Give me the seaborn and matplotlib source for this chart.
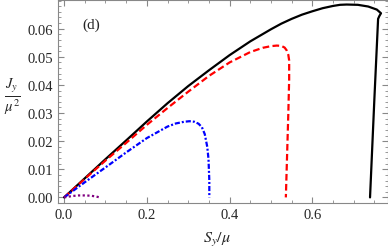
import numpy as np
import pandas as pd
import matplotlib
matplotlib.use("Agg")
import matplotlib.pyplot as plt
import seaborn as sns
from matplotlib.ticker import MultipleLocator, FixedLocator, FormatStrFormatter

# curve data (S_y/mu, J_y/mu^2)
black_x = [0.0, 0.05, 0.1, 0.154, 0.2, 0.25, 0.3, 0.35, 0.4, 0.45, 0.5, 0.525, 0.55, 0.575,
           0.6, 0.625, 0.65, 0.667, 0.683, 0.71, 0.735, 0.756, 0.766, 0.762, 0.759,
           0.750, 0.7395]
black_y = [0.0, 0.0068, 0.0136, 0.0208, 0.0270, 0.0335, 0.0396, 0.0452, 0.0506, 0.0555,
           0.0598, 0.0618, 0.0635, 0.0650, 0.0662, 0.0673, 0.0681, 0.0685, 0.0686,
           0.0685, 0.0679, 0.0668, 0.0655, 0.0645, 0.0635, 0.035, 0.0]

red_x = [0.0, 0.05, 0.1, 0.154, 0.2, 0.25, 0.3, 0.35, 0.4, 0.45, 0.48, 0.5, 0.514, 0.525,
         0.533, 0.538, 0.542, 0.544, 0.544, 0.542, 0.539, 0.536]
red_y = [0.0, 0.0066, 0.0131, 0.0199, 0.0258, 0.0318, 0.0376, 0.0432, 0.0480, 0.0517,
         0.0532, 0.0538, 0.0540, 0.0539, 0.0533, 0.0523, 0.0507, 0.0487, 0.042, 0.030,
         0.015, 0.0]

blue_x = [0.0, 0.05, 0.106, 0.15, 0.2, 0.25, 0.27, 0.29, 0.303, 0.315, 0.325, 0.333,
          0.340, 0.346, 0.349, 0.351, 0.351]
blue_y = [0.0, 0.0054, 0.0113, 0.0160, 0.0211, 0.0252, 0.0263, 0.0269, 0.0271, 0.0269,
          0.0262, 0.0250, 0.0225, 0.018, 0.0137, 0.006, 0.0]

purple_x = [0.0, 0.02, 0.035, 0.05, 0.065, 0.078, 0.086]
purple_y = [0.0, 0.0005, 0.0007, 0.0007, 0.0006, 0.0003, 0.0]

x_ticks = [0.0, 0.2, 0.4, 0.6]
y_ticks = [0.0, 0.01, 0.02, 0.03, 0.04, 0.05, 0.06]

sns.set_style("ticks")
plt.rcParams["font.family"] = ["Liberation Serif", "DejaVu Serif"]
plt.rcParams["mathtext.fontset"] = "stix"

fig = plt.figure(figsize=(3.88, 2.53), dpi=100)
ax = fig.add_axes([0.150, 0.194, 0.849, 0.803])

curves = [
    (black_x, black_y, "black", "-"),
    (red_x, red_y, "red", (0, (3, 1.5))),
    (blue_x, blue_y, "blue", (0, (2.3, 0.9, 0.9, 0.9))),
    (purple_x, purple_y, "purple", (0, (1.0, 1.1))),
]
for xs, ys, col, ls in curves:
    df = pd.DataFrame({"x": xs, "y": ys})
    sns.lineplot(data=df, x="x", y="y", sort=False, estimator=None, color=col,
                 linestyle=ls, linewidth=1.6, ax=ax)

ax.set_xlim(-0.0143, 0.782)
ax.set_ylim(-0.00196, 0.0703)
ax.xaxis.set_major_locator(FixedLocator(x_ticks))
ax.xaxis.set_minor_locator(MultipleLocator(0.05))
ax.yaxis.set_major_locator(FixedLocator(y_ticks))
ax.yaxis.set_minor_locator(MultipleLocator(0.002))
ax.xaxis.set_major_formatter(FormatStrFormatter("%.1f"))
ax.yaxis.set_major_formatter(FormatStrFormatter("%.2f"))
ax.tick_params(which="both", direction="in", top=True, right=True, color="#888888",
               labelsize=10.5)
ax.tick_params(which="major", length=4, pad=4)
ax.tick_params(which="minor", length=2)
for sp in ax.spines.values():
    sp.set_color("#888888")
    sp.set_linewidth(0.8)

ax.set_xlabel(r"$S_y/\mu$", fontsize=11.5, ha="center", va="center")
ax.xaxis.set_label_coords(0.482, -0.177)
ax.set_ylabel(r"$\frac{J_y}{\mu^2}$", fontsize=15, rotation=0, ha="center", va="center")
ax.yaxis.set_label_coords(-0.140, 0.52)
ax.text(0.101, 0.880, "(d)", fontsize=11, ha="center", va="center", transform=ax.transAxes)

fig.savefig("out.png", dpi=100)
